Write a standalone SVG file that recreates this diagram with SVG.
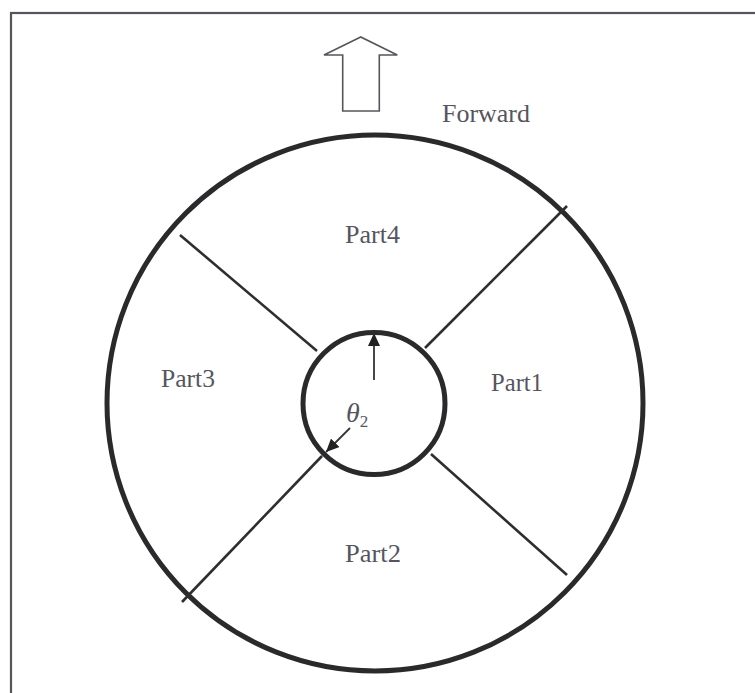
<svg xmlns="http://www.w3.org/2000/svg" width="755" height="693" viewBox="0 0 755 693">
<style>
.lbl{font-family:"Liberation Serif","Times New Roman",serif;font-size:26px;fill:#555560}
.div{stroke:#2e2e30;stroke-width:2.6;fill:none}
.ring{stroke:#2a2a2c;fill:none}
</style>
<defs>
<marker id="ah" markerWidth="13" markerHeight="12" refX="13" refY="6" orient="auto" markerUnits="userSpaceOnUse" viewBox="0 0 13 12">
<path d="M0,0 L13,6 L0,12 z" fill="#222"/>
</marker>
</defs>
<rect x="0" y="0" width="755" height="693" fill="#fff"/>
<rect id="frame" x="11" y="13" width="760" height="700" fill="none" stroke="#55555c" stroke-width="2.2"/>
<g id="forward-arrow">
<polygon points="360.7,37 324,55 342.7,55 342.7,111 379.3,111 379.3,55 397.3,55" fill="#fff" stroke="#55555c" stroke-width="1.6"/>
<text class="lbl" x="442" y="121.5" textLength="88" lengthAdjust="spacingAndGlyphs">Forward</text>
</g>
<g id="outer-circle">
<circle class="ring" cx="375" cy="403" r="268" stroke-width="5"/>
</g>
<g id="connectors">
<line class="div" x1="180" y1="235" x2="317" y2="351"/>
<line class="div" x1="567" y1="206" x2="425" y2="348"/>
<line class="div" x1="182" y1="602" x2="322" y2="456"/>
<line class="div" x1="431" y1="454" x2="567" y2="575"/>
</g>
<g id="inner-circle">
<circle class="ring" cx="374" cy="403.5" r="71" stroke-width="5"/>
<line x1="374" y1="380" x2="374" y2="333" stroke="#333" stroke-width="1.8" marker-end="url(#ah)"/>
<line x1="350" y1="428" x2="326" y2="452" stroke="#333" stroke-width="1.8" marker-end="url(#ah)"/>
<text x="346" y="422" font-family="Liberation Serif, Times New Roman, serif" font-style="italic" font-size="28" fill="#555560">θ<tspan font-style="normal" font-size="17" dy="5">2</tspan></text>
</g>
<g id="part4"><text class="lbl" x="345" y="243" textLength="55" lengthAdjust="spacingAndGlyphs">Part4</text></g>
<g id="part3"><text class="lbl" x="161" y="387" textLength="54" lengthAdjust="spacingAndGlyphs">Part3</text></g>
<g id="part1"><text class="lbl" x="491" y="391" textLength="52" lengthAdjust="spacingAndGlyphs">Part1</text></g>
<g id="part2"><text class="lbl" x="345" y="562" textLength="56" lengthAdjust="spacingAndGlyphs">Part2</text></g>
</svg>
